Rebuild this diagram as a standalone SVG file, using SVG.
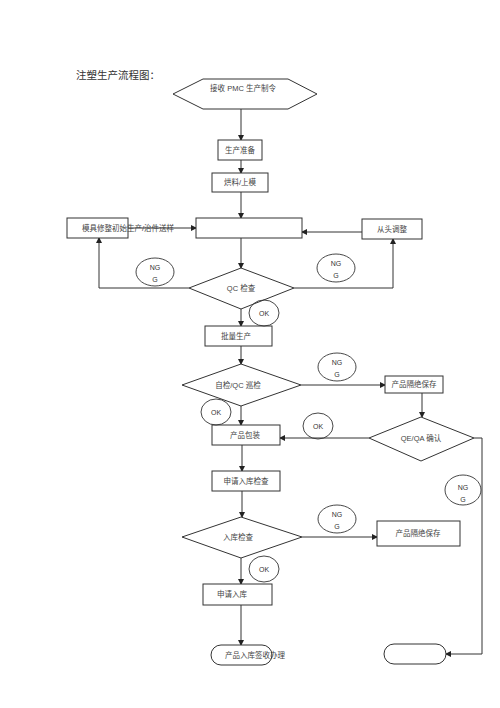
<svg xmlns="http://www.w3.org/2000/svg" width="500" height="708" viewBox="0 0 500 708">
<defs>
<marker id="ah" markerWidth="6" markerHeight="6" refX="5" refY="3" orient="auto" markerUnits="userSpaceOnUse">
<path d="M0,0 L6,3 L0,6 z" fill="#222"/>
</marker>
<style>
.s{fill:#fff;stroke:#333;stroke-width:1}
.e{fill:none;stroke:#333;stroke-width:0.9}
.c{fill:none;stroke:#333;stroke-width:1;marker-end:url(#ah)}
.t{font-family:"Liberation Sans","Noto Sans CJK SC",sans-serif;font-size:7.5px;fill:#444;text-anchor:middle}
.n{font-family:"Liberation Sans","Noto Sans CJK SC",sans-serif;font-size:7px;fill:#333;text-anchor:middle}
</style>
</defs>
<rect width="500" height="708" fill="#fff"/>
<text x="76" y="79" font-family="'Noto Sans CJK SC',sans-serif" font-size="10.5" fill="#333">注塑生产流程图：</text>

<g id="connectors">
<path class="c" d="M241,109 V140"/>
<path class="c" d="M241,160 V173"/>
<path class="c" d="M241,192 V218"/>
<path class="c" d="M128,228 H196"/>
<path class="c" d="M362,232 H302"/>
<path class="c" d="M241,238 V268"/>
<path class="c" d="M189,288 H99 V238"/>
<path class="c" d="M294,288 H393 V239"/>
<path class="c" d="M241,309 V326"/>
<path class="c" d="M241,346 V364"/>
<path class="c" d="M301,385 H385"/>
<path class="c" d="M422,393 V417"/>
<path class="c" d="M369,438 H280"/>
<path class="c" d="M474,438 H482 V654 H446"/>
<path class="c" d="M241,406 V425"/>
<path class="c" d="M242,445 V471"/>
<path class="c" d="M242,491 V517"/>
<path class="c" d="M302,537 H377"/>
<path class="c" d="M241,558 V584"/>
<path class="c" d="M241,605 V645"/>
</g>

<g id="n_start"><polygon class="s" points="173,94 203,79 288,79 317,94 288,109 203,109"/><text class="t" x="243" y="91">接收 PMC 生产制令</text></g>
<g id="n_prep"><rect class="s" x="218" y="140" width="44" height="20"/><text class="t" x="240" y="153">生产准备</text></g>
<g id="n_mold"><rect class="s" x="212" y="173" width="56" height="19"/><text class="t" x="240" y="185">烘料/上模</text></g>
<g id="n_trial"><rect class="s" x="196" y="218" width="106" height="20"/></g>
<g id="n_fix"><rect class="s" x="67" y="218" width="61" height="20"/><text class="t" x="128" y="231">模具修整初始生产/治件送样</text></g>
<g id="n_redo"><rect class="s" x="362" y="219" width="60" height="20"/><text class="t" x="392" y="232">从头调整</text></g>
<g id="n_qc"><polygon class="s" points="241,268 294,288 241,309 189,288"/><text class="t" x="241" y="291">QC 检查</text></g>
<g id="n_mass"><rect class="s" x="205" y="326" width="67" height="20"/><text class="t" x="236" y="339">批量生产</text></g>
<g id="n_self"><polygon class="s" points="241,364 301,385 241,406 182,385"/><text class="t" x="238" y="388">自检/QC 巡检</text></g>
<g id="n_iso1"><rect class="s" x="385" y="376" width="58" height="17"/><text class="t" x="414" y="387">产品隔绝保存</text></g>
<g id="n_qe"><polygon class="s" points="421,417 474,438 421,461 369,438"/><text class="t" x="421" y="441">QE/QA 确认</text></g>
<g id="n_pack"><rect class="s" x="212" y="425" width="68" height="20"/><text class="t" x="245" y="438">产品包装</text></g>
<g id="n_apply"><rect class="s" x="212" y="471" width="68" height="20"/><text class="t" x="246" y="484">申请入库检查</text></g>
<g id="n_check"><polygon class="s" points="241,517 302,537 241,558 182,537"/><text class="t" x="238" y="540">入库检查</text></g>
<g id="n_iso2"><rect class="s" x="377" y="521" width="83" height="25"/><text class="t" x="418" y="536">产品隔绝保存</text></g>
<g id="n_in"><rect class="s" x="203" y="584" width="69" height="21"/><text class="t" x="232" y="597">申请入库</text></g>
<g id="n_end1"><rect class="s" x="211" y="645" width="61" height="20" rx="10"/><text class="t" x="255" y="658">产品入库签收办理</text></g>
<g id="n_end2"><rect class="s" x="384" y="644" width="62" height="20" rx="10"/></g>

<g id="labels">
<ellipse class="e" cx="155" cy="272" rx="19" ry="14"/><text class="n" x="155" y="270">NG</text><text class="n" x="155" y="282">G</text>
<ellipse class="e" cx="336" cy="268" rx="19" ry="14"/><text class="n" x="336" y="266">NG</text><text class="n" x="336" y="278">G</text>
<ellipse class="e" cx="337" cy="367" rx="19" ry="14"/><text class="n" x="337" y="365">NG</text><text class="n" x="337" y="377">G</text>
<ellipse class="e" cx="463" cy="490" rx="18" ry="15"/><text class="n" x="463" y="490">NG</text><text class="n" x="463" y="502">G</text>
<ellipse class="e" cx="337" cy="519" rx="19" ry="14"/><text class="n" x="337" y="517">NG</text><text class="n" x="337" y="529">G</text>
<ellipse class="e" cx="264" cy="313" rx="15" ry="13"/><text class="n" x="264" y="316">OK</text>
<ellipse class="e" cx="216" cy="412" rx="15" ry="13"/><text class="n" x="216" y="415">OK</text>
<ellipse class="e" cx="318" cy="426" rx="15" ry="13"/><text class="n" x="318" y="429">OK</text>
<ellipse class="e" cx="264" cy="569" rx="15" ry="13"/><text class="n" x="264" y="572">OK</text>
</g>
</svg>
